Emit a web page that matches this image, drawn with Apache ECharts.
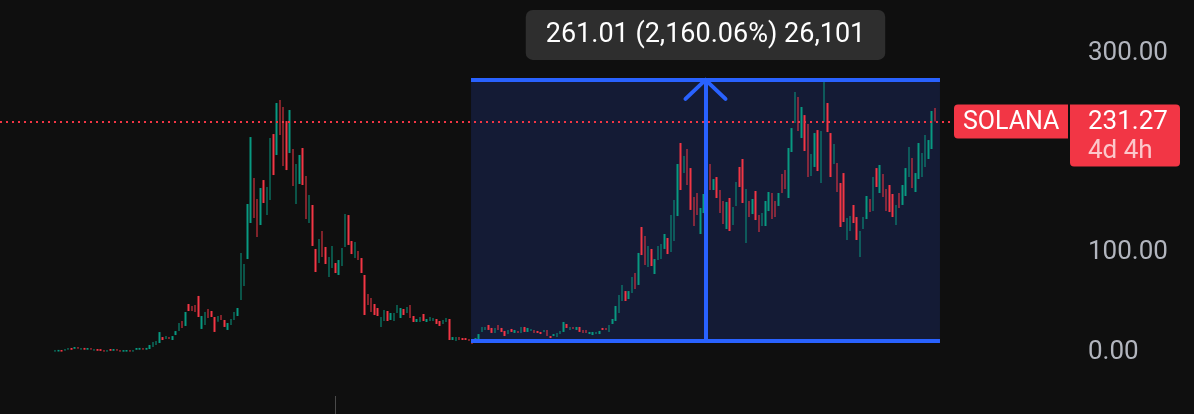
<!DOCTYPE html>
<html><head><meta charset="utf-8">
<script src="https://cdn.jsdelivr.net/npm/echarts@6/dist/echarts.min.js"></script>
<style>html,body{margin:0;padding:0;background:#0f0f0f;}#c{width:1194px;height:414px;}</style>
</head><body><div id="c"></div>
<script>
// ---- data (weekly bars, body open/close) ----
const opens = [
0.6,0.8,2.3,1.5,2.5,4.3,3.5,5.3,2.6,4.4,
2.6,4.3,1.6,3.3,3.2,2.3,0.6,3.3,1.5,3.3,
2.3,0.6,0.7,2.3,0.6,2.5,2.6,4.4,2.6,3.3,
5.3,7.3,9.3,15.3,13.3,15.3,12.3,17.3,21.3,31.4,
26.4,48.4,46.4,47.4,56.5,23.4,27.4,43.4,41.4,35.4,
30.7,37.4,32.4,22.4,27.4,32.4,36.4,52.4,66.5,93.5,
129.6,174.7,153.7,127.6,172.7,137.6,152.7,218.8,197.8,252.9,
245.9,231.8,199.8,203.8,148.7,168.7,204.8,176.7,129.6,147.7,
103.6,89.5,121.6,105.6,75.5,84.5,89.5,77.5,86.5,105.6,
137.6,111.6,94.5,101.6,94.5,77.5,58.5,54.5,48.4,44.4,
25.4,31.4,41.4,32.4,31.4,39.4,34.4,43.4,39.4,47.4,
36.4,30.4,30.4,38.4,30.4,31.4,31.4,33.4,31.4,28.4,
30.4,33.4,12.3,11.3,15.3,14.3,14.3,13.3,12.3,9.3,
13.3,20.4,22.4,27.4,24.4,19.4,27.4,24.4,21.4,18.3,
23.4,19.4,21.4,19.4,25.4,20.4,21.4,22.4,21.4,20.4,
20.4,22.4,16.3,16.3,15.3,18.3,20.4,28.4,22.4,25.4,
22.4,25.4,22.4,22.4,18.3,17.3,18.3,18.3,24.4,24.4,
20.4,28.4,31.4,39.4,51.4,61.4,53.4,59.4,79.5,67.5,
125.6,116.6,85.5,103.6,78.5,92.5,93.5,103.6,114.6,100.6,
111.6,136.6,209.8,179.7,203.8,184.7,155.7,159.7,118.6,139.6,
137.6,188.8,162.7,175.7,162.7,151.7,123.6,154.7,127.6,146.7,
185.8,193.8,109.6,151.7,138.6,161.7,137.6,126.6,126.6,141.6,
159.7,151.7,146.7,178.7,182.7,154.7,200.8,229.8,255.9,214.8,
237.8,228.8,176.7,185.8,222.8,169.7,230.8,249.9,219.8,188.8,
189.8,169.7,179.7,112.6,121.6,147.7,135.6,95.5,123.6,133.6,
153.7,141.6,184.7,159.7,178.7,163.7,167.7,158.7,127.6,159.7,
147.7,156.7,175.7,194.8,160.7,173.7,175.7,185.8,193.8,203.8,
244.9
];
const closes = [
2.2,2.4,0.7,3.3,4.3,2.5,5.3,3.5,4.4,2.6,
4.3,2.5,3.3,1.5,1.4,0.6,2.3,1.5,3.3,1.5,
0.6,2.2,2.3,0.6,2.3,4.3,4.4,2.6,4.4,7.3,
10.3,11.3,20.3,12.3,16.3,13.3,16.3,21.3,29.4,24.4,
40.4,41.4,41.4,40.4,35.4,36.4,40.4,34.4,35.4,20.4,
36.4,32.4,25.4,29.4,33.4,40.4,44.4,99.6,88.5,148.7,
215.8,134.6,115.6,164.7,149.7,165.7,214.8,177.7,249.9,217.8,
186.8,182.7,242.9,166.7,188.8,197.8,167.7,133.6,157.7,106.6,
80.5,113.6,95.5,88.5,95.5,106.6,79.5,92.5,104.6,138.6,
107.6,98.5,110.6,92.5,79.5,37.4,47.4,40.4,37.4,36.4,
35.4,42.4,31.4,39.4,39.4,47.4,44.4,37.4,45.4,34.4,
30.4,33.4,35.4,31.4,33.4,35.4,34.4,28.4,26.4,32.4,
34.4,12.3,15.3,15.3,12.3,12.3,12.3,11.3,8.3,14.3,
18.3,25.4,25.4,22.4,19.4,24.4,22.4,20.4,16.3,22.4,
20.4,22.4,19.4,25.4,20.4,24.4,23.4,19.4,19.4,18.3,
22.4,16.3,14.3,18.3,19.4,21.4,30.4,24.4,25.4,23.4,
25.4,20.4,19.4,19.4,20.4,20.4,20.4,21.4,22.4,22.4,
27.4,33.4,46.4,57.5,67.5,51.4,61.4,75.5,63.5,99.6,
97.5,87.5,106.6,86.5,93.5,106.6,108.6,118.6,98.5,137.6,
152.7,188.8,162.7,196.8,167.7,142.7,126.6,137.6,144.7,158.7,
171.7,162.7,173.7,154.7,139.6,128.6,150.7,121.6,145.7,170.7,
165.7,149.7,163.7,135.6,153.7,132.6,120.6,139.6,151.7,160.7,
133.6,135.6,159.7,159.7,163.7,204.8,224.8,260.9,221.8,245.9,
201.8,175.7,198.8,219.8,181.7,221.8,272.9,220.8,175.7,208.8,
160.7,125.6,130.6,134.6,136.6,129.6,112.6,121.6,135.6,156.7,
140.6,175.7,165.7,187.8,155.7,141.6,140.6,135.6,147.7,144.7,
167.7,184.7,205.8,164.7,179.7,209.8,199.8,217.8,212.8,241.9,
231.27
];
const priceTicks = [0, 100, 300];
const symbolName = 'SOLANA';
const lastPrice = 231.27;
const countdown = '4d 4h';
const rangeLow = 12.08;
const rangeHigh = 273.09;
const rangeStartBar = 127.65;
const rangeEndBar = 271.55;
const rangeText = '261.01 (2,160.06%) 26,101';

// ---- layout ----
const W = 1194, H = 414;
const plotRight = 955;
const firstBarX = 55, barStep = 3.259;
const zeroY = 352.3, pxPerUnit = 0.9975;
const yMin = -100, yMax = 400;
const xMin = -firstBarX / barStep;
const xMax = (plotRight - firstBarX) / barStep;
const gridTop = zeroY - yMax * pxPerUnit;
const gridHeight = (yMax - yMin) * pxPerUnit;

const UP = '#089981', DOWN = '#f23645', BLUE = '#2962ff';
const FONT = 'Roboto, "Noto Sans", sans-serif';

const candles = opens.map((o, i) => [i, o, closes[i], Math.min(o, closes[i]), Math.max(o, closes[i])]);
const mid = (rangeStartBar + rangeEndBar) / 2;
const armDx = 20 / barStep, armDy = 19 / pxPerUnit;

const chart = echarts.init(document.getElementById('c'), null, {renderer: 'canvas', width: W, height: H});
chart.setOption({
  backgroundColor: '#0f0f0f',
  animation: false,
  grid: {left: 0, width: plotRight, top: gridTop, height: gridHeight, containLabel: false, outerBoundsMode: 'none'},
  xAxis: {type: 'value', min: xMin, max: xMax, show: false},
  yAxis: {
    type: 'value', position: 'right', min: yMin, max: yMax, interval: 100,
    axisLine: {show: false}, axisTick: {show: false}, splitLine: {show: false},
    axisLabel: {
      margin: 133, color: '#b2b5be', fontSize: 26, fontFamily: FONT,
      formatter: v => priceTicks.indexOf(v) >= 0 ? v.toFixed(2) : ''
    }
  },
  series: [
    {
      type: 'line', data: [], z: 1, silent: true,
      markArea: {
        silent: true,
        itemStyle: {color: '#141b35'},
        data: [[{coord: [rangeStartBar, rangeLow]}, {coord: [rangeEndBar, rangeHigh]}]]
      }
    },
    {
      type: 'candlestick', z: 2, barWidth: 2, silent: true,
      encode: {x: 0, y: [1, 2, 3, 4]},
      itemStyle: {color: UP, color0: DOWN, borderColor: UP, borderColor0: DOWN, borderWidth: 0},
      data: candles
    },
    {
      type: 'line', data: [], z: 3, silent: true,
      markLine: {
        silent: true, symbol: ['none', 'none'], label: {show: false},
        lineStyle: {color: BLUE, width: 4, type: 'solid', cap: 'butt'},
        data: [
          [{coord: [rangeStartBar, rangeHigh]}, {coord: [rangeEndBar, rangeHigh]}],
          [{coord: [rangeStartBar, rangeLow]}, {coord: [rangeEndBar, rangeLow]}],
          [{coord: [mid, rangeLow]}, {coord: [mid, rangeHigh]}],
          [{coord: [mid - armDx, rangeHigh - armDy], lineStyle: {cap: 'round'}}, {coord: [mid, rangeHigh]}],
          [{coord: [mid + armDx, rangeHigh - armDy], lineStyle: {cap: 'round'}}, {coord: [mid, rangeHigh]}]
        ]
      },
      markPoint: {
        silent: true, symbol: 'rect', symbolSize: 0,
        label: {
          show: true, position: 'top', distance: 20, formatter: rangeText,
          color: '#ffffff', fontSize: 27, lineHeight: 30, fontFamily: FONT,
          backgroundColor: '#2e2e2e', borderRadius: 7, padding: [10, 20]
        },
        data: [{coord: [mid, rangeHigh]}]
      }
    },
    {
      type: 'line', data: [], z: 4, silent: true,
      markLine: {
        silent: true, symbol: ['none', 'none'], label: {show: false},
        lineStyle: {color: DOWN, width: 2, type: [2, 4]},
        data: [{yAxis: lastPrice}]
      }
    }
  ]
});

const py = chart.convertToPixel({gridIndex: 0}, [0, lastPrice])[1];
chart.setOption({
  graphic: [
    {type: 'rect', shape: {x: 954, y: py - 17, width: 114, height: 34, r: [4, 0, 0, 4]}, style: {fill: DOWN}, silent: true, z: 10},
    {type: 'text', x: 963, y: py + 1, style: {text: symbolName, fill: '#ffffff', fontSize: 25, fontFamily: FONT, verticalAlign: 'middle'}, silent: true, z: 11},
    {type: 'rect', shape: {x: 1070, y: py - 17, width: 110, height: 62, r: [0, 4, 4, 4]}, style: {fill: DOWN}, silent: true, z: 10},
    {type: 'text', x: 1088, y: py + 1, style: {text: lastPrice.toFixed(2), fill: '#ffffff', fontSize: 26, fontFamily: FONT, verticalAlign: 'middle'}, silent: true, z: 11},
    {type: 'text', x: 1088, y: py + 30, style: {text: countdown, fill: 'rgba(255,255,255,0.72)', fontSize: 26, fontFamily: FONT, verticalAlign: 'middle'}, silent: true, z: 11},
    {type: 'line', shape: {x1: 335.5, y1: 396, x2: 335.5, y2: 414}, style: {stroke: '#4a4a4a', lineWidth: 1}, silent: true, z: 10}
  ]
});
</script>
</body></html>
